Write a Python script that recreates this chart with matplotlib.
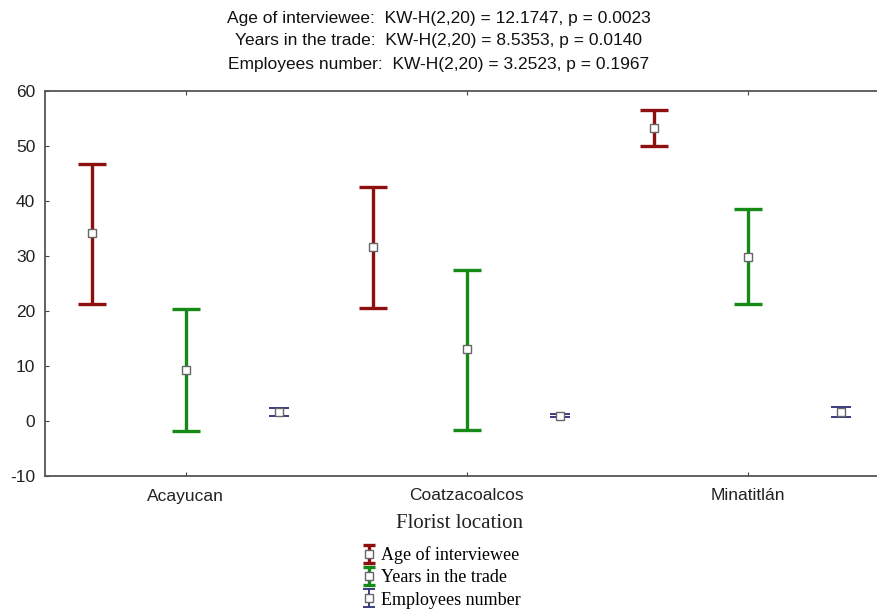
import numpy as np
import matplotlib.pyplot as plt

locations = ['Acayucan', 'Coatzacoalcos', 'Minatitlán']

age_mean = [34.2, 31.6, 53.3]
age_low = [21.3, 20.5, 50.0]
age_high = [46.8, 42.5, 56.5]

years_mean = [9.3, 13.1, 29.8]
years_low = [-1.8, -1.6, 21.3]
years_high = [20.4, 27.5, 38.5]

emp_mean = [1.6, 1.0, 1.7]
emp_low = [0.9, 0.8, 0.8]
emp_high = [2.4, 1.3, 2.5]

title_lines = ['Age of interviewee:  KW-H(2,20) = 12.1747, p = 0.0023',
               'Years in the trade:  KW-H(2,20) = 8.5353, p = 0.0140',
               'Employees number:  KW-H(2,20) = 3.2523, p = 0.1967']

plt.rcParams['font.family'] = ['Liberation Sans', 'DejaVu Sans']
plt.rcParams['axes.unicode_minus'] = False

fig = plt.figure(figsize=(8.77, 6.12), dpi=100)
ax = fig.add_axes([45 / 877, 1 - 476 / 612, 1 - 45 / 877, (476 - 91) / 612])

x = np.arange(len(locations))
off = 1 / 3


def err(mean, low, high):
    m = np.array(mean)
    return [m - np.array(low), np.array(high) - m]


series = [
    (x - off, age_mean, age_low, age_high, '#8e0f0f', 2.4, 10, 'Age of interviewee'),
    (x, years_mean, years_low, years_high, '#168a16', 2.4, 10, 'Years in the trade'),
    (x + off, emp_mean, emp_low, emp_high, '#3a3a80', 1.4, 7, 'Employees number'),
]
handles = []
for xs, m, lo, hi, c, lw, cs, lab in series:
    h = ax.errorbar(xs, m, yerr=err(m, lo, hi), fmt='s', color=c, ecolor=c,
                    elinewidth=lw, capsize=cs, capthick=lw, ms=6,
                    mfc='white', mec='#666666')
    for line in h[1]:
        line.set_markeredgewidth(lw)
    h[0].set_markeredgewidth(1.0)
    # smaller proxy for the legend
    p = ax.errorbar([np.nan], [np.nan], yerr=[1], fmt='s', color=c, ecolor=c,
                    elinewidth=lw, capsize=4.5, ms=5.5, mfc='white',
                    mec='#666666', label=lab)
    for line in p[1]:
        line.set_markeredgewidth(lw)
    p[0].set_markeredgewidth(1.0)
    handles.append(p)

ax.set_xlim(-0.5, 2.46)
ax.set_ylim(-10, 60)
ax.set_yticks(np.arange(-10, 61, 10))
ax.set_xticks(x)
ax.set_xticklabels(locations)
ax.tick_params(direction='in', length=3, colors='#444444', labelcolor='#222222',
               labelsize=12.5, top=True)
ax.tick_params(axis='x', pad=9)
ax.tick_params(axis='y', pad=7)
for s in ax.spines.values():
    s.set_color('#555555')
    s.set_linewidth(1.3)
ax.spines['right'].set_visible(False)

for i, line in enumerate(title_lines):
    fig.text(0.5, 1 - (18 + 23 * i) / 612, line, ha='center', va='center',
             fontsize=12.5, color='#111111')

fig.text(460 / 877, 1 - 523 / 612, 'Florist location', ha='center', va='center',
         fontsize=15, family='Liberation Serif', color='#222222')

fig.legend(handles=handles, loc='upper left', bbox_to_anchor=(352 / 877, 1 - 537 / 612),
           frameon=False, prop={'family': 'Liberation Serif', 'size': 13},
           handlelength=0.9, handletextpad=0.2, labelspacing=0.3, borderpad=0)

fig.savefig('out.png', dpi=100)
